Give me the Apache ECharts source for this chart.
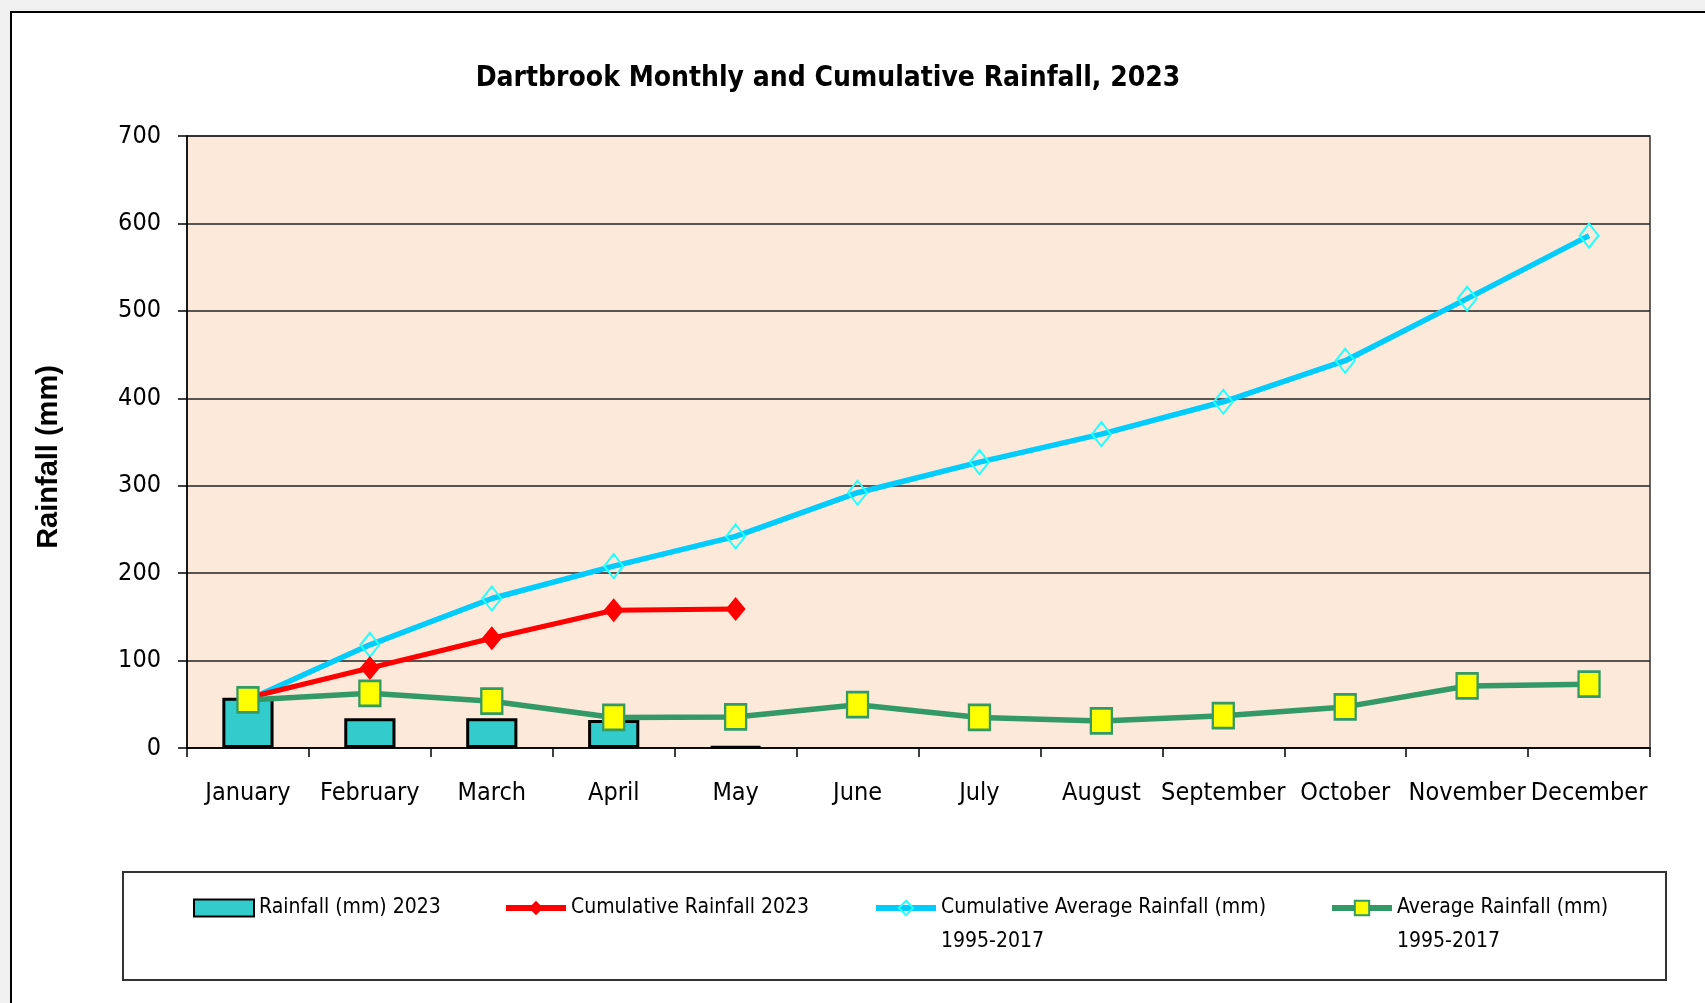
<!DOCTYPE html>
<html>
<head>
<meta charset="utf-8">
<title>Dartbrook Rainfall 2023</title>
<script src="https://cdn.jsdelivr.net/npm/echarts@6/dist/echarts.min.js"></script>
<style>
  html, body { margin: 0; padding: 0; background: #f0f0f0; }
  #chart { width: 1705px; height: 1003px; }
</style>
</head>
<body>
<div id="chart"></div>
<script>
// data
var months = ['January', 'February', 'March', 'April', 'May', 'June', 'July',
  'August', 'September', 'October', 'November', 'December'];
var rain2023 = [57.5, 34, 34, 32, 1.5, null, null, null, null, null, null, null];
var cumRain2023 = [57.5, 91.5, 125.5, 157.5, 159, null, null, null, null, null, null, null];
var cumAvgRain = [55, 118, 171, 208, 242, 292, 327, 359, 396, 443, 514, 586];
var avgRain = [55, 62.5, 53.5, 35, 35.5, 49.5, 35, 31, 37, 47, 71, 73];
var yTicks = { min: 0, max: 700, step: 100 };

// no narrow Arial here, condensed DejaVu is the closest
var NARROW = '"Liberation Sans Narrow", "Arial Narrow", "DejaVu Sans Condensed", sans-serif';

// legend texts: blank first line so the icon sits on the first real line
var legendText = {
  'Rainfall (mm) 2023': 'Rainfall (mm) 2023',
  'Cumulative Rainfall 2023': 'Cumulative Rainfall 2023',
  'Cumulative Average Rainfall (mm) 1995-2017': ' \nCumulative Average Rainfall (mm)\n1995-2017',
  'Average Rainfall (mm) 1995-2017': ' \nAverage Rainfall (mm)\n1995-2017'
};

function oneLegend(name, x, y, extra) {
  var lg = {
    data: [name],
    left: x,
    top: y,
    padding: 0,
    itemWidth: 60,
    itemHeight: 18,
    itemGap: 0,
    formatter: function (n) { return legendText[n]; },
    textStyle: {
      fontFamily: NARROW,
      fontSize: 21,
      color: '#000',
      lineHeight: 34
    }
  };
  return Object.assign(lg, extra || {});
}

var chart = echarts.init(document.getElementById('chart'));
chart.setOption({
  backgroundColor: '#f0f0f0',
  animation: false,
  graphic: [
    { type: 'rect', z: -10, shape: { x: 11, y: 12, width: 1800, height: 1100 },
      style: { fill: '#fff', stroke: '#000', lineWidth: 2 } },
    { type: 'rect', z: -10, shape: { x: 123, y: 872, width: 1543, height: 108 },
      style: { fill: '#fff', stroke: '#333', lineWidth: 2 } }
  ],
  title: {
    text: 'Dartbrook Monthly and Cumulative Rainfall, 2023',
    left: 823,
    top: 60,
    textAlign: 'center',
    textStyle: { fontFamily: NARROW, fontWeight: 'bold', fontSize: 28, color: '#000' }
  },
  legend: [
    oneLegend('Rainfall (mm) 2023', 193, 891, { icon: 'rect', itemHeight: 17 }),
    oneLegend('Cumulative Rainfall 2023', 503, 891, { lineStyle: { width: 6 } }),
    oneLegend('Cumulative Average Rainfall (mm) 1995-2017', 873, 857, { lineStyle: { width: 6 } }),
    oneLegend('Average Rainfall (mm) 1995-2017', 1329, 857, { lineStyle: { width: 6 } })
  ],
  grid: {
    left: 187, top: 136, width: 1463, height: 612,
    show: true, backgroundColor: '#fde9d9', borderColor: '#333', borderWidth: 1.5
  },
  xAxis: {
    type: 'category',
    data: months,
    boundaryGap: true,
    axisLine: { lineStyle: { color: '#000', width: 1.5 } },
    axisTick: { show: true, length: 9, lineStyle: { color: '#000', width: 1.5 } },
    axisLabel: { fontFamily: NARROW, fontSize: 25, color: '#000', margin: 33, interval: 0 }
  },
  yAxis: {
    type: 'value',
    min: yTicks.min, max: yTicks.max, interval: yTicks.step,
    name: 'Rainfall (mm)',
    nameLocation: 'middle',
    nameRotate: 90,
    nameGap: 124,
    nameTextStyle: {
      fontFamily: '"Liberation Sans", Arial, sans-serif', fontWeight: 'bold', fontSize: 29, color: '#000',
      padding: [0, 30, 0, 0]
    },
    axisLine: { show: true, lineStyle: { color: '#000', width: 1.5 } },
    axisTick: { show: true, length: 9, lineStyle: { color: '#000', width: 1.5 } },
    axisLabel: { fontFamily: NARROW, fontSize: 25, color: '#000', margin: 26 },
    splitLine: { show: true, lineStyle: { color: '#222', width: 1.5 } }
  },
  series: [
    {
      name: 'Rainfall (mm) 2023',
      type: 'bar',
      data: rain2023,
      barWidth: '42%',
      itemStyle: { color: '#33cccc', borderColor: '#000', borderWidth: 3 }
    },
    {
      name: 'Cumulative Average Rainfall (mm) 1995-2017',
      type: 'line',
      data: cumAvgRain,
      symbol: 'diamond',
      symbolSize: [19, 24],
      lineStyle: { color: '#00ccff', width: 5.5 },
      itemStyle: { color: 'rgba(0,0,0,0)', borderColor: '#22ffff', borderWidth: 2 }
    },
    {
      name: 'Cumulative Rainfall 2023',
      type: 'line',
      data: cumRain2023,
      symbol: 'diamond',
      symbolSize: [20, 24],
      lineStyle: { color: '#ff0000', width: 5 },
      itemStyle: { color: '#ff0000' }
    },
    {
      name: 'Average Rainfall (mm) 1995-2017',
      type: 'line',
      data: avgRain,
      symbol: 'rect',
      symbolSize: [21, 25],
      lineStyle: { color: '#339966', width: 5.5 },
      itemStyle: { color: '#ffff00', borderColor: '#339966', borderWidth: 2.5 }
    }
  ]
});
</script>
</body>
</html>
